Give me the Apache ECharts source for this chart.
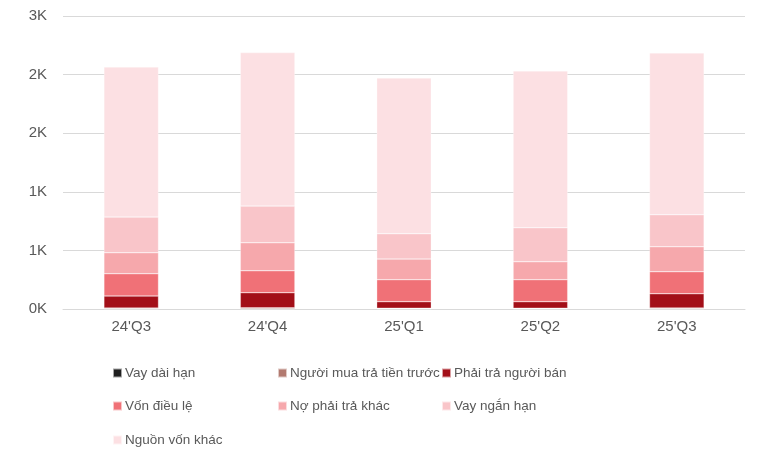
<!DOCTYPE html>
<html>
<head>
<meta charset="utf-8">
<script src="https://cdn.jsdelivr.net/npm/echarts@6/dist/echarts.min.js"></script>
<style>html,body{margin:0;padding:0;background:#fff}#c{width:772px;height:455px}</style>
</head>
<body>
<div id="c"></div>
<script>
const categories = ["24'Q3", "24'Q4", "25'Q1", "25'Q2", "25'Q3"];
const seriesNames = ["Vay dài hạn", "Người mua trả tiền trước", "Phải trả người bán", "Vốn điều lệ", "Nợ phải trả khác", "Vay ngắn hạn", "Nguồn vốn khác"];
const vayDaiHan = [2, 2, 2, 2, 2];
const nguoiMuaTraTienTruoc = [6, 8, 5, 5, 7];
const phaiTraNguoiBan = [103, 129, 55, 55, 121];
const vonDieuLe = [190, 187, 188, 188, 188];
const noPhaiTraKhac = [179, 239, 176, 153, 213];
const vayNganHan = [304, 313, 216, 290, 273];
const nguonVonKhac = [1281, 1310, 1329, 1338, 1381];
const yTicks = { min: 0, max: 2500, interval: 500 };

const values = [vayDaiHan, nguoiMuaTraTienTruoc, phaiTraNguoiBan, vonDieuLe, noPhaiTraKhac, vayNganHan, nguonVonKhac];
const colors = ['#1f1f1f', '#b27a70', '#a30f18', '#f07177', '#f6a8ac', '#f9c5c9', '#fce0e3'];

const font = '"Liberation Sans", Arial, sans-serif';
const legendPos = [
  [112, 366], [277, 366], [441, 366],
  [112, 399], [277, 399], [441, 399],
  [112, 433]
];

const chart = echarts.init(document.getElementById('c'), null, { renderer: 'canvas' });
chart.setOption({
  animation: false,
  backgroundColor: '#fff',
  color: colors,
  grid: { left: 63, right: 27, top: 16, bottom: 146, containLabel: false },
  legend: seriesNames.map((n, i) => ({
    data: [n],
    left: legendPos[i][0],
    top: legendPos[i][1],
    itemWidth: 9,
    itemHeight: 9,
    itemGap: 0,
    padding: 0,
    icon: 'rect',
    textStyle: { fontFamily: font, fontSize: 13.5, color: '#595959', padding: [0, 0, 0, -2] }
  })),
  xAxis: {
    type: 'category',
    data: categories,
    axisTick: { show: false },
    axisLine: { lineStyle: { color: '#d9d9d9', width: 1 } },
    axisLabel: { fontFamily: font, fontSize: 15, color: '#595959', margin: 10 }
  },
  yAxis: {
    type: 'value',
    min: yTicks.min,
    max: yTicks.max,
    interval: yTicks.interval,
    axisLine: { show: false },
    axisTick: { show: false },
    splitLine: { lineStyle: { color: '#d9d9d9', width: 1 } },
    axisLabel: {
      fontFamily: font, fontSize: 15, color: '#595959', margin: 16,
      formatter: v => Math.round(v / 1000) + 'K'
    }
  },
  series: seriesNames.map((n, i) => ({
    name: n,
    type: 'bar',
    stack: 'total',
    barWidth: '40%',
    data: values[i],
    itemStyle: { color: colors[i], borderColor: 'rgba(255,255,255,0.6)', borderWidth: 0.5 }
  }))
});
</script>
</body>
</html>
